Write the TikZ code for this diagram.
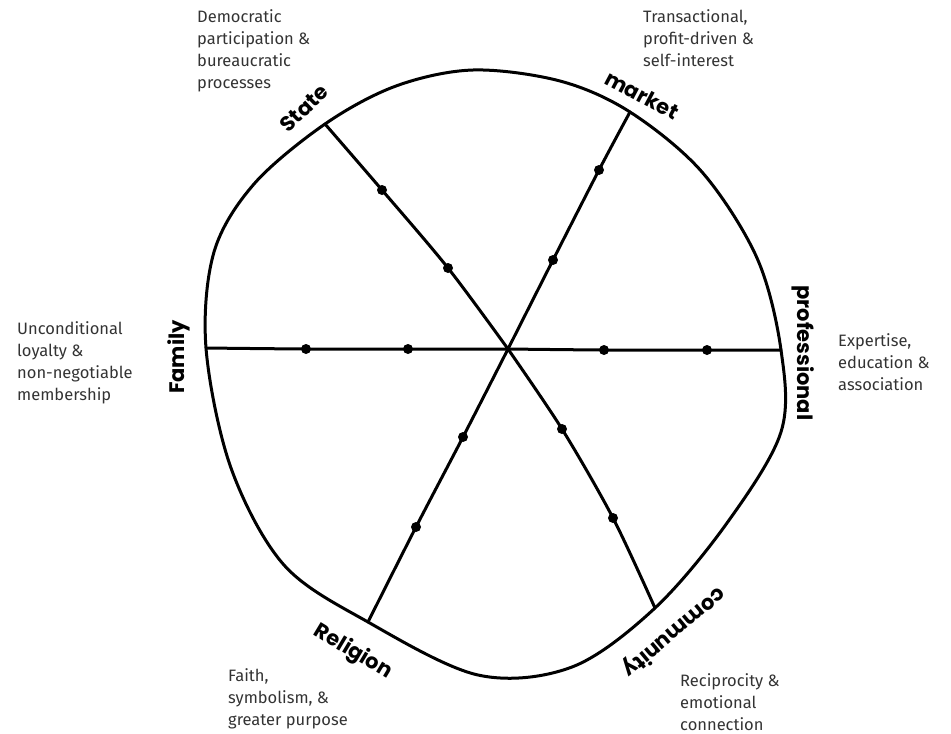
\documentclass[tikz,border=0pt]{standalone}
\usepackage{fontspec}
\setmainfont{Fira Sans}
\newfontfamily\handfont{Poppins}
\usetikzlibrary{positioning}
\tikzset{rim/.style={line width=3pt},
  spoke/.style={line width=3pt, line cap=round},
  dot/.style={circle, fill, inner sep=0pt, minimum size=10pt},
  axislbl/.style={font=\handfont\bfseries\fontsize{21}{21}\selectfont, inner sep=0pt},
  note/.style={font=\fontsize{16.5}{22}\selectfont, text=black!80, align=left,
    anchor=north west, inner sep=0pt}}

\begin{document}
\begin{tikzpicture}[x=1pt, y=-1pt]
  \useasboundingbox (0,0) rectangle (951,734);
  % hub and rim ends of the six spokes
  \coordinate (c) at (508,349);
  \coordinate (st) at (325,124);
  \coordinate (mk) at (630,112);
  \coordinate (pr) at (781,350);
  \coordinate (cm) at (655,608);
  \coordinate (rl) at (368,622);
  \coordinate (fm) at (206,348);
  % outline
  \draw[rim] plot[smooth cycle, tension=0.55] coordinates {(473,70) (560,81) (mk)
    (702,172) (757,258) (pr) (781,432) (727,523) (cm) (572,667) (478,675) (rl)
    (284,565) (231,468) (fm) (214,252) (254,184) (st) (396,86)};
  % spokes with their dots
  \node[dot] (st1) at (448,268) {};
  \node[dot] (st2) at (382,190) {};
  \node[dot] (mk1) at (553,260) {};
  \node[dot] (mk2) at (599,170) {};
  \node[dot] (pr1) at (604,350) {};
  \node[dot] (pr2) at (707,350) {};
  \node[dot] (cm1) at (562,429) {};
  \node[dot] (cm2) at (613,518) {};
  \node[dot] (rl1) at (463,437) {};
  \node[dot] (rl2) at (416,527) {};
  \node[dot] (fm1) at (408,349) {};
  \node[dot] (fm2) at (306,349) {};
  \foreach \s in {st,mk,pr,cm,rl,fm}{
    \draw[spoke] plot[smooth] coordinates {(c) (\s1.center) (\s2.center) (\s)};
  }
  % handwritten labels on the rim
  \node[axislbl, rotate=44] (lst) at (304,108) {State};
  \node[axislbl, rotate=-28] (lmk) at (642,95) {market};
  \node[axislbl, rotate=-90] (lpr) at (803,353) {professional};
  \node[axislbl, rotate=220] (lcm) at (674,632) {community};
  \node[axislbl, rotate=-31] (lrl) at (353,652) {Religion};
  \node[axislbl, rotate=90] (lfm) at (179,357) {Family};
  % descriptions
  \node[note] (nst) at (197,9) {Democratic\\participation \&\\bureaucratic\\processes};
  \node[note] (nmk) at (643,9) {Transactional,\\profit-driven \&\\self-interest};
  \node[note] (npr) at (838,333) {Expertise,\\education \&\\association};
  \node[note] (ncm) at (680,673) {Reciprocity \&\\emotional\\connection};
  \node[note] (nrl) at (228,668) {Faith,\\symbolism, \&\\greater purpose};
  \node[note] (nfm) at (17,321) {Unconditional\\loyalty \&\\non-negotiable\\membership};
\end{tikzpicture}
\end{document}
